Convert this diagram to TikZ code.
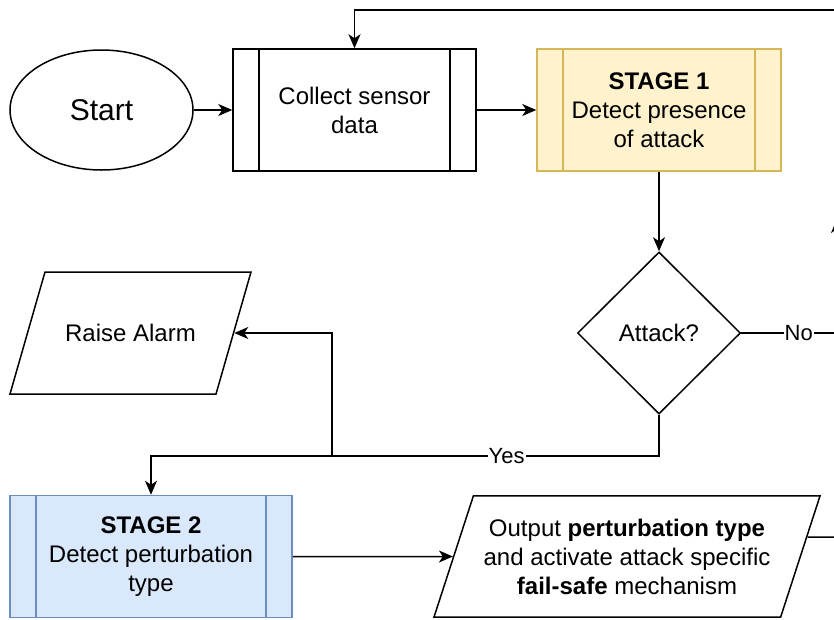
\documentclass[tikz,border=0pt]{standalone}
\usepackage{fontspec}
\setmainfont{Liberation Sans}
\usetikzlibrary{shapes.geometric,arrows.meta,positioning}
\definecolor{stageyellow}{HTML}{FFF2CC}
\definecolor{stageyellowline}{HTML}{D6B656}
\definecolor{stageblue}{HTML}{DAE8FC}
\definecolor{stageblueline}{HTML}{6C8EBF}

\begin{document}
\begin{tikzpicture}[x=1pt,y=1pt]
\tikzstyle{every node}+=[inner sep=0pt,font=\fontsize{24}{29}\selectfont]
\tikzstyle{proc}=[draw,line width=1.5pt,minimum height=122pt,align=center]
\tikzstyle{bands}=[path picture={\draw[line width=1.5pt,#1]
  ([xshift=26pt]path picture bounding box.north west) -- ([xshift=26pt]path picture bounding box.south west)
  ([xshift=-26pt]path picture bounding box.north east) -- ([xshift=-26pt]path picture bounding box.south east);}]
\tikzstyle{io}=[draw,line width=1.5pt,trapezium,trapezium left angle=#1,trapezium right angle=180-#1,trapezium stretches body=true,align=center]
\tikzstyle{arrow}=[line width=1.5pt,-{Stealth[length=14pt,width=12pt,inset=4pt]}]
\tikzstyle{line}=[line width=1.5pt]
\tikzstyle{lbl}=[fill=white,font=\fontsize{22}{26}\selectfont,inner sep=1pt]
\clip (0,0) rectangle (834,-619);
\fill[white] (0,0) rectangle (834,-619);
\node [draw,line width=1.5pt,ellipse,minimum width=183pt,minimum height=120pt,font=\fontsize{30}{36}\selectfont] (start) at (101.5,-110) {Start};
\node [proc,bands=black,minimum width=243pt] (collect) at (354.5,-110) {Collect sensor\\data};
\node [proc,bands=stageyellowline,draw=stageyellowline,fill=stageyellow,minimum width=244pt] (stage1) at (659,-110) {\textbf{STAGE 1}\\Detect presence\\of attack};
\node [draw,line width=1.5pt,diamond,aspect=1,minimum width=163pt,minimum height=162pt] (attack) at (659,-333) {Attack?};
\node [io=74,text height=20pt,text depth=3pt,inner ysep=49.5pt,minimum width=241pt] (alarm) at (130.5,-333) {Raise Alarm};
\node [proc,bands=stageblueline,draw=stageblueline,fill=stageblue,minimum width=282pt] (stage2) at (151,-556.5) {\textbf{STAGE 2}\\Detect perturbation\\type};
\node [io=72,inner ysep=22.75pt,minimum width=386pt] (output) at (627,-556.5) {Output \textbf{perturbation type}\\and activate attack specific\\\textbf{fail-safe} mechanism};
\coordinate (loopin) at (842,-10);
\coordinate (nocorner) at (837,-333);
\coordinate (notip) at (837,-219);
\coordinate (yesturn) at (659,-456);
\coordinate (split) at (332,-456);
\coordinate (outexit) at (842,-537);
\draw [arrow] (start) -- (collect);
\draw [arrow] (collect) -- (stage1);
\draw [arrow] (stage1) -- (attack);
\draw [arrow] (loopin) -| (collect.north);
\draw [line] (attack.east) -- node[lbl,pos=0.6] {No} (nocorner);
\draw [arrow] (nocorner) -- (notip);
\draw [arrow] (attack.south) -- (yesturn) -- node[lbl,pos=0.3] {Yes} (yesturn -| stage2.north) -- (stage2.north);
\draw [arrow] (split) |- (alarm.east);
\draw [arrow] (stage2) -- (output.west);
\draw [line] ([xshift=6.5pt,yshift=19.5pt]output.east) -- (outexit);
\end{tikzpicture}
\end{document}
